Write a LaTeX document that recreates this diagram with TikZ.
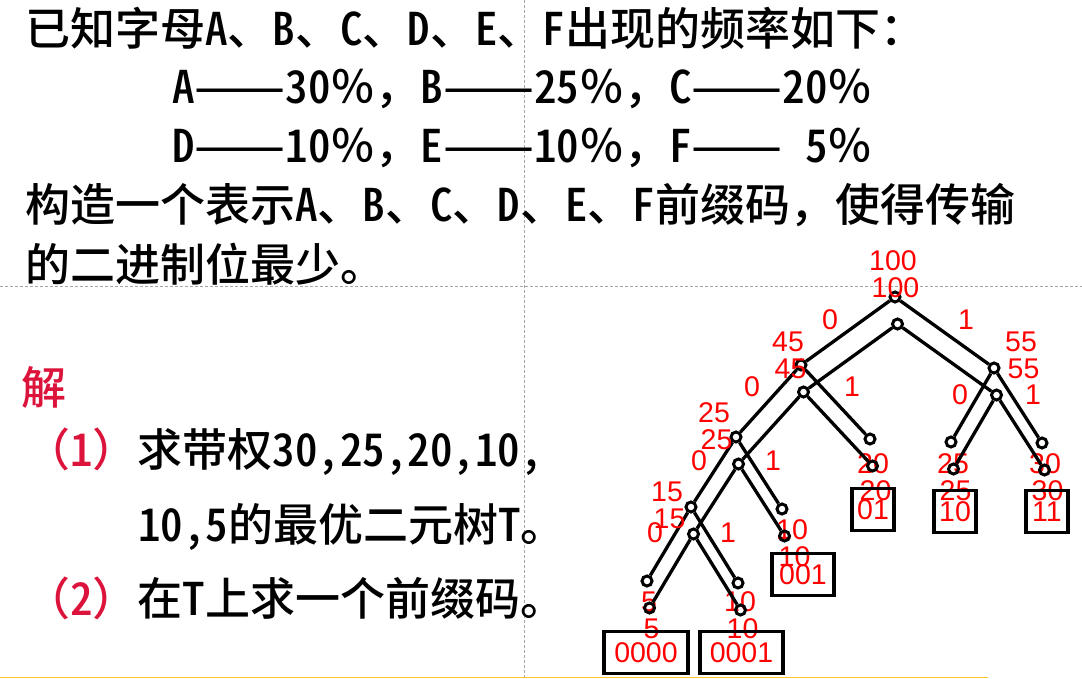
\documentclass[tikz,border=0pt]{standalone}
\usepackage{fontspec}
\usepackage{xcolor}
\setmainfont{Liberation Sans}
\IfFontExistsTF{Noto Sans CJK SC Medium}{%
  \newfontfamily\hei{Noto Sans CJK SC Medium}
  \newfontfamily\heihw[RawFeature=+hwid]{Noto Sans CJK SC Medium}
}{%
  \newfontfamily\hei[FakeBold=1.2]{Noto Sans CJK SC}
  \newfontfamily\heihw[FakeBold=1.2,RawFeature=+hwid]{Noto Sans CJK SC}
}
\newcommand{\hw}[1]{{\heihw #1}}
\newcommand{\dd}{\scalebox{1.2}[1]{——}}
\definecolor{jiered}{RGB}{220,20,60}
\definecolor{guide}{RGB}{165,165,165}
\definecolor{rulebar}{RGB}{255,196,50}

\tikzset{
  txt/.style={anchor=base west, inner sep=0pt, font=\hei\fontsize{45}{59}\selectfont},
  knot/.style={circle, draw, line width=3pt, minimum size=10pt, inner sep=0pt},
  branch/.style={line width=3.3pt},
  wt/.style={text=red, inner sep=0pt, font=\fontsize{28.5}{28}\selectfont},
  codebox/.style={draw, line width=3.4pt, text=red, inner sep=0pt, minimum height=42pt, font=\fontsize{28.5}{28}\selectfont}
}

\begin{document}
\begin{tikzpicture}[x=1pt, y=-1pt]
\useasboundingbox (0,0) rectangle (1082,679);

% Guides
\draw[guide, line width=0.8pt, dash pattern=on 3pt off 2pt] (0,286) -- (1082,286);
\draw[guide, line width=0.8pt, dash pattern=on 3pt off 2pt] (524,0) -- (524,679);
\draw[rulebar, line width=1.6pt] (0,677.5) -- (988,677.5);

% Question
\node[txt] (q1) at (25,46) {已知字母\hw{A}、\hw{B}、\hw{C}、\hw{D}、\hw{E}、\hw{F}出现的频率如下：};
\node[txt] (q2) at (172,104) {\hw{A}\dd\hw{30}％，\hw{B}\dd\hw{25}％，\hw{C}\dd\hw{20}％};
\node[txt] (q3) at (172,163) {\hw{D}\dd\hw{10}％，\hw{E}\dd\hw{10}％，\hw{F}\dd\hspace{0.5em}\hw{5}％};
\node[txt] (q4) at (25,222) {构造一个表示\hw{A}、\hw{B}、\hw{C}、\hw{D}、\hw{E}、\hw{F}前缀码，使得传输};
\node[txt] (q5) at (25,281) {的二进制位最少。};

% Answer
\node[txt, text=jiered] (jie) at (21,404) {解};
\node[txt] (a1) at (25,466) {{\color{jiered}（\hw{1}）}求带权\hw{30,25,20,10,}};
\node[txt] (a2) at (138,541) {\hw{10,5}的最优二元树\hw{T}。};
\node[txt] (a3) at (25,615) {{\color{jiered}（\hw{2}）}在\hw{T}上求一个前缀码。};

% Tree, drawn twice
\foreach \c/\dx/\dy in {a/0/0, b/2.5/27} {
  \begin{scope}[shift={(\dx,\dy)}]
    \node[knot] (r\c) at (895,297) {};
    \node[knot] (m\c) at (801,365) {};
    \node[knot] (n\c) at (994,368) {};
    \node[knot] (p\c) at (736,437) {};
    \node[knot] (lc\c) at (870,439) {};
    \node[knot] (lb\c) at (951,442) {};
    \node[knot] (la\c) at (1042,443) {};
    \node[knot] (s\c) at (691,507) {};
    \node[knot] (ld\c) at (782,509) {};
    \node[knot] (lf\c) at (647,581) {};
    \node[knot] (le\c) at (738,583) {};
    \draw[branch] (r\c) -- (m\c) (r\c) -- (n\c)
      (m\c) -- (p\c) (m\c) -- (lc\c)
      (n\c) -- (lb\c) (n\c) -- (la\c)
      (p\c) -- (s\c) (p\c) -- (ld\c)
      (s\c) -- (lf\c) (s\c) -- (le\c);
    \node[wt] (wr\c) at (893,261) {100};
    \node[wt] (wm\c) at (788,342) {45};
    \node[wt] (wn\c) at (1021,342) {55};
    \node[wt] (wp\c) at (714,413) {25};
    \node[wt] (ws\c) at (667,492) {15};
    \node[wt] (wc\c) at (873,464) {20};
    \node[wt] (wb\c) at (953,464) {25};
    \node[wt] (wa\c) at (1045,464) {30};
    \node[wt] (wd\c) at (792,530) {10};
    \node[wt] (wf\c) at (649,602) {5};
    \node[wt] (we\c) at (740,602) {10};
  \end{scope}
}

% Branch bits
\node[wt] (b1) at (830,320) {0};
\node[wt] (b2) at (966,320) {1};
\node[wt] (b3) at (752,387) {0};
\node[wt] (b4) at (852,387) {1};
\node[wt] (b5) at (960,395) {0};
\node[wt] (b6) at (1033,395) {1};
\node[wt] (b7) at (699,461) {0};
\node[wt] (b8) at (773,461) {1};
\node[wt] (b9) at (655,533) {0};
\node[wt] (b10) at (728,533) {1};

% Codes
\node[codebox, minimum width=42pt] (cc) at (873,509.5) {01};
\node[codebox, minimum width=42pt] (cb) at (955,511.5) {10};
\node[codebox, minimum width=42pt] (ca) at (1047,511.5) {11};
\node[codebox, minimum width=62pt] (cd) at (803,574.5) {001};
\node[codebox, minimum width=84pt] (cf) at (646,652.5) {0000};
\node[codebox, minimum width=83pt] (ce) at (741.5,652.5) {0001};
\end{tikzpicture}
\end{document}
